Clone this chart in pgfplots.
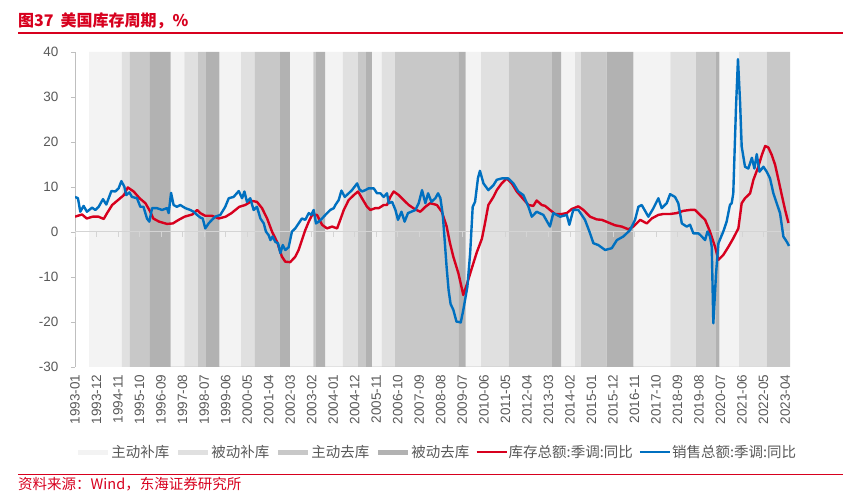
\documentclass[border=0pt]{standalone}
\usepackage{pgfplots}
\pgfplotsset{compat=1.18}
\usepackage{fontspec}
\setmainfont{Liberation Sans}
\newfontfamily\cjk{Noto Sans CJK SC}
\definecolor{redL}{RGB}{215,0,30}
\definecolor{blueL}{RGB}{0,112,192}
\definecolor{bA}{RGB}{243,243,243}
\definecolor{bB}{RGB}{224,224,224}
\definecolor{bC}{RGB}{200,200,200}
\definecolor{bD}{RGB}{178,178,178}
\definecolor{txt}{RGB}{89,89,89}
\definecolor{axl}{RGB}{191,191,191}
\definecolor{zl}{RGB}{212,212,212}
\begin{document}
\begin{tikzpicture}[x=1pt,y=1pt]
\useasboundingbox (0pt,0pt) rectangle (843pt,494pt);
\begin{axis}[
  at={(75pt,127pt)}, anchor=south west, scale only axis,
  width=715pt, height=315pt,
  xmin=0, xmax=365.5, ymin=-30, ymax=40,
  ytick={-30,-20,...,40},
  xtick={0,11,...,363},
  xticklabels={1993-01,1993-12,1994-11,1995-10,1996-09,1997-08,1998-07,1999-06,2000-05,2001-04,2002-03,2003-02,2004-01,2004-12,2005-11,2006-10,2007-09,2008-08,2009-07,2010-06,2011-05,2012-04,2013-03,2014-02,2015-01,2015-12,2016-11,2017-10,2018-09,2019-08,2020-07,2021-06,2022-05,2023-04},
  x tick label style={rotate=90, anchor=east, font=\fontsize{13.5}{14}\selectfont, text=txt},
  y tick label style={font=\fontsize{13.5}{14}\selectfont, text=txt, xshift=-9pt},
  /pgf/number format/assume math mode=true,
  axis x line*=bottom, axis y line*=left,
  x axis line style={draw=none},
  y axis line style={draw=axl, line width=0.8pt},
  xtick style={draw=none},
  ytick style={draw=axl, line width=0.8pt},
  tick align=outside, major tick length=4pt,
  legend columns=6,
  legend cell align=left,
  legend image code/.code={\draw[#1] (0pt,0pt) -- (30pt,0pt);},
  legend style={at={(0.506,-0.27)}, anchor=center, draw=none, fill=none,
    font=\cjk\fontsize{14.5}{16}\selectfont, text=txt,
    /tikz/every odd column/.append style={column sep=-1pt},
    /tikz/every even column/.append style={column sep=4pt}},
]
% bands
\addplot[fill=bA, draw=none, forget plot] coordinates {
(7.2,-30)(7.2,40)(23.9,40)(23.9,-30)
(48.9,-30)(48.9,40)(55.9,40)(55.9,-30)
(73.8,-30)(73.8,40)(84.9,40)(84.9,-30)
(109.9,-30)(109.9,40)(121.8,40)(121.8,-30)
(127.8,-30)(127.8,40)(136.9,40)(136.9,-30)
(151.7,-30)(151.7,40)(156.8,40)(156.8,-30)
(199.7,-30)(199.7,40)(207.6,40)(207.6,-30)
(248.5,-30)(248.5,40)(255.6,40)(255.6,-30)
(285.4,-30)(285.4,40)(304.4,40)(304.4,-30)
(329.4,-30)(329.4,40)(339.5,40)(339.5,-30)};
\addplot[fill=bB, draw=none, forget plot] coordinates {
(23.9,-30)(23.9,40)(28.1,40)(28.1,-30)
(55.9,-30)(55.9,40)(63.0,40)(63.0,-30)
(84.9,-30)(84.9,40)(92.0,40)(92.0,-30)
(136.9,-30)(136.9,40)(144.7,40)(144.7,-30)
(156.8,-30)(156.8,40)(163.6,40)(163.6,-30)
(207.6,-30)(207.6,40)(221.7,40)(221.7,-30)
(255.6,-30)(255.6,40)(258.7,40)(258.7,-30)
(304.4,-30)(304.4,40)(317.5,40)(317.5,-30)
(339.5,-30)(339.5,40)(353.6,40)(353.6,-30)};
\addplot[fill=bC, draw=none, forget plot] coordinates {
(28.1,-30)(28.1,40)(38.3,40)(38.3,-30)
(63.0,-30)(63.0,40)(67.0,40)(67.0,-30)
(92.0,-30)(92.0,40)(104.8,40)(104.8,-30)
(121.8,-30)(121.8,40)(123.2,40)(123.2,-30)
(144.7,-30)(144.7,40)(148.8,40)(148.8,-30)
(163.6,-30)(163.6,40)(196.0,40)(196.0,-30)
(221.7,-30)(221.7,40)(243.9,40)(243.9,-30)
(258.7,-30)(258.7,40)(271.8,40)(271.8,-30)
(317.5,-30)(317.5,40)(327.7,40)(327.7,-30)
(353.6,-30)(353.6,40)(365.5,40)(365.5,-30)};
\addplot[fill=bD, draw=none, forget plot] coordinates {
(38.3,-30)(38.3,40)(48.9,40)(48.9,-30)
(67.0,-30)(67.0,40)(73.8,40)(73.8,-30)
(104.8,-30)(104.8,40)(109.9,40)(109.9,-30)
(123.2,-30)(123.2,40)(127.8,40)(127.8,-30)
(148.8,-30)(148.8,40)(151.7,40)(151.7,-30)
(196.0,-30)(196.0,40)(199.7,40)(199.7,-30)
(243.9,-30)(243.9,40)(248.5,40)(248.5,-30)
(271.8,-30)(271.8,40)(285.4,40)(285.4,-30)
(327.7,-30)(327.7,40)(329.4,40)(329.4,-30)};
% zero line and its ticks
\addplot[zl, line width=1pt, forget plot] coordinates {(0,0)(365.5,0)};
\pgfplotsinvokeforeach{0,11,...,363}{\draw[zl, line width=0.8pt] (axis cs:#1,0) -- ([yshift=-5pt]axis cs:#1,0);}
% legend images for bands
\addlegendimage{bA, line width=5pt}
\addlegendentry{主动补库}
\addlegendimage{bB, line width=5pt}
\addlegendentry{被动补库}
\addlegendimage{bC, line width=5pt}
\addlegendentry{主动去库}
\addlegendimage{bD, line width=5pt}
\addlegendentry{被动去库}
% inventory
\addplot[redL, line width=2.4pt, line join=round] coordinates {
(0,3.4)(3.6,3.9)(6,3.0)(9,3.4)(12,3.4)(14.7,2.9)(16.4,4.2)(19,6.0)(22,7.1)(25,8.2)
(27,9.9)(30,9.0)(33,7.5)(36,6.4)(38.5,4.5)(40,3.0)(43,2.3)(47,1.8)(50,1.9)(53,2.7)
(56,3.4)(60,3.9)(62.4,4.9)(64,4.2)(66.6,3.6)(70,3.6)(73.5,3.0)(77,3.4)(80,4.2)(84,5.6)
(87,6.0)(90.5,6.9)(93,6.7)(95.6,5.3)(98.2,3.0)(100.7,0.1)(103.3,-2.2)(105.8,-5.5)(107.5,-6.6)(110,-6.7)
(112.6,-5.5)(114.3,-4.0)(116,-1.8)(117.7,0.4)(119.5,2.3)(121.2,3.8)(123.7,3.8)(126.3,1.6)(128.8,0.8)(131.4,1.2)
(134,0.8)(135.6,2.7)(137.4,4.9)(139.9,7.1)(142.5,8.2)(144.7,9.0)(146.7,7.5)(149.3,5.6)(151,4.9)(153.5,5.3)
(155.3,5.3)(157.8,6.0)(159.5,6.0)(161.2,7.8)(162.9,9.0)(165.5,8.2)(168,7.1)(170.6,6.0)(174,5.0)(176.5,4.5)
(179.1,5.6)(181.6,6.4)(185,6.0)(187.5,4.5)(190,1.2)(191.7,-2.5)(193.4,-5.5)(196,-9.2)(198.5,-14.0)(200.2,-11.8)
(202.8,-8.1)(205.4,-4.5)(208,-1.5)(209.6,2.0)(211.3,6.0)(213.9,7.8)(215.6,9.3)(218.1,10.8)(220.7,11.9)(223.3,10.8)
(225.8,9.0)(229.2,7.3)(231.8,6.0)(234.3,5.8)(236,7.0)(238.6,6.0)(240.3,5.8)(242.8,4.9)(245.4,4.0)(248.8,4.0)
(251.4,4.2)(253.9,5.1)(257.3,5.7)(259.9,4.9)(263.3,3.4)(266.7,2.8)(269.3,2.7)(272.7,2.1)(276,1.5)(279.5,1.2)
(282.9,0.6)(285.4,1.2)(288.9,2.7)(292.3,1.9)(294.8,3.0)(298.2,3.8)(300.8,4.0)(304.2,4.0)(307.6,4.2)(311,4.7)
(314.4,4.9)(317,4.9)(319.5,3.8)(322.1,2.7)(324.6,0.1)(327.2,-3.3)(328.9,-6.2)(331.4,-5.1)(334,-3.3)(336.5,-1.4)
(339.1,0.8)(340.8,6.4)(342.5,7.5)(345.1,8.6)(346.8,11.6)(349.3,14.5)(351.1,17.1)(352.8,19.1)(354.4,18.8)(356.2,17.1)
(357.9,14.9)(359.6,11.6)(361.3,8.2)(363,4.9)(364.7,2.0)};
\addlegendentry{库存总额:季调:同比}
% sales
\addplot[blueL, line width=2.4pt, line join=round] coordinates {
(0,7.8)(1.5,7.5)(2.7,4.5)(4.4,5.8)(6.1,4.5)(8.7,5.4)(10.4,4.9)(12.1,5.6)(14.3,7.3)(16,6.1)
(18.6,9.1)(20.6,9.0)(22.3,9.7)(23.7,11.3)(25.2,10.1)(26.2,8.2)(27.8,8.8)(29.1,7.8)(31.7,7.5)(33.4,5.6)
(35,5.6)(36.8,3.0)(38,2.3)(39.4,5.3)(41.9,5.3)(44.5,4.9)(47,5.3)(47.9,4.2)(49.1,8.7)(50.4,6.0)
(52.1,5.6)(53.8,6.0)(56.4,5.3)(58.9,4.9)(60.7,4.5)(62.4,3.8)(64.1,3.2)(65.3,3.0)(66.6,0.8)(68.3,1.9)
(70,2.7)(71.7,3.4)(74.3,3.8)(76.8,5.6)(78.6,7.5)(81.1,7.8)(83.7,9.1)(85.4,7.5)(86.6,9.0)(87.9,6.7)
(89.6,7.5)(91.3,4.9)(93,5.6)(94.8,3.0)(96.5,1.9)(97.6,0.1)(99,-0.7)(99.9,-1.8)(101,-1.0)(102.4,-2.2)
(103.8,-2.5)(105,-4.7)(106.2,-2.9)(107.5,-4.0)(109.2,-3.4)(110.9,0.1)(112.6,0.8)(114.3,1.9)(116,3.0)(117.7,2.7)
(119.5,4.2)(120.8,3.8)(122,4.9)(123.2,1.9)(124.6,2.3)(126.3,3.0)(128,3.8)(130.5,4.9)(132.3,5.3)(133.1,6.0)
(134.8,7.1)(136.2,9.2)(137.9,7.8)(139.9,8.6)(141.6,9.3)(144.2,10.8)(145.4,9.5)(146.7,9.0)(148.4,9.3)(150.1,9.7)
(152.7,9.7)(154.4,8.6)(156.1,8.6)(157.8,7.8)(159.5,8.6)(160.4,6.4)(162.1,6.7)(163.8,4.9)(165.1,2.7)(166.9,4.5)
(168.5,2.3)(170.2,4.2)(171.9,4.5)(174,4.9)(175.7,6.4)(177.4,9.3)(179.1,6.4)(180.5,8.6)(182.2,6.7)(184.2,7.5)
(185.6,8.6)(186.8,7.5)(188,3.8)(189,-2.0)(190,-8.0)(191,-13.0)(192,-16.0)(193.4,-17.3)(195,-19.9)(197.2,-20.1)
(198.5,-17.3)(200.6,-12.1)(202,-4.7)(203.3,5.6)(204.5,6.7)(206,12.0)(207,13.6)(208.8,10.8)(211.3,9.3)(213.9,10.4)
(215.6,11.6)(218.1,11.9)(221.5,11.9)(224.1,10.8)(226.6,9.0)(229.2,8.2)(231.8,5.6)(233.5,3.4)(236,4.5)(239.4,3.8)
(242.8,1.2)(244.5,4.2)(248,3.4)(251.4,3.8)(252.7,1.6)(254.7,4.9)(257.3,4.9)(260.7,2.7)(263.3,-0.3)(265,-2.5)
(267.5,-2.9)(271,-4.0)(274.4,-3.6)(277,-1.8)(280.3,-1.0)(283.7,0.4)(286.3,2.7)(288,5.6)(289.7,6.0)(293.1,3.4)
(295.7,5.3)(298.2,7.5)(299.9,5.3)(302.5,6.4)(304.2,8.4)(306.7,7.8)(308.4,6.4)(310.2,1.9)(312.7,1.2)(314.4,1.6)
(316.1,-0.3)(318.7,-0.3)(320.4,-1.0)(322.1,-1.8)(323.3,0.1)(324.6,-1.0)(325.5,-3.3)(326.3,-20.3)(327.7,-9.2)(328.9,-2.5)
(331.4,0.1)(333.1,2.3)(334.8,6.0)(335.7,6.4)(336.5,8.6)(337.9,27.8)(338.9,38.4)(340,28.6)(340.8,19.0)(342.5,14.5)
(344.2,14.1)(346,16.5)(347.3,14.1)(348.5,17.3)(349.9,13.4)(351.9,14.5)(353.6,13.4)(355.3,11.9)(357,8.6)(358.7,6.4)
(360.4,4.2)(362.1,-1.0)(363.9,-2.2)(365,-3.1)};
\addlegendentry{销售总额:季调:同比}
\end{axis}
% title
\node[anchor=base west, text=redL, font=\cjk\bfseries\fontsize{16}{18}\selectfont, inner sep=0pt] at (18pt,467pt) {图37\hspace{7pt}美国库存周期，\%};
\draw[redL, line width=1.2pt] (18pt,461pt) -- (843pt,461pt);
\draw[redL, line width=2.5pt] (18pt,461pt) -- (27pt,461pt);
% footer
\draw[redL, line width=1pt] (18pt,19pt) -- (843pt,19pt);
\node[anchor=base west, text=redL, font=\cjk\fontsize{14.5}{16}\selectfont, inner sep=0pt] at (18pt,4pt) {资料来源：Wind，东海证券研究所};
\end{tikzpicture}
\end{document}
